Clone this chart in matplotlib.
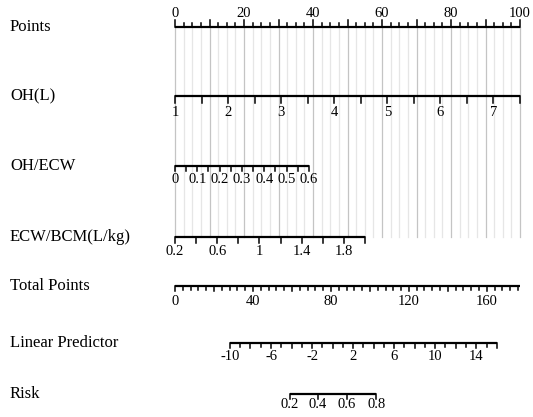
import numpy as np
import matplotlib
matplotlib.use("Agg")
import matplotlib.pyplot as plt

plt.rcParams['font.family'] = ['Liberation Serif', 'DejaVu Serif']

# ---- data ----
row_names = ["Points", "OH(L)", "OH/ECW", "ECW/BCM(L/kg)",
             "Total Points", "Linear Predictor", "Risk"]

# Points scale (0-100)
points_range = [0, 100]
points_labels = [0, 20, 40, 60, 80, 100]
points_step = 2.5

# OH(L): value range -> points
oh_values = [1, 7.5]
oh_points = [0, 100]
oh_labels = [1, 2, 3, 4, 5, 6, 7]
oh_step = 0.5

# OH/ECW
ohecw_values = [0, 0.6]
ohecw_points = [0, 38.8]
ohecw_labels = [0, 0.1, 0.2, 0.3, 0.4, 0.5, 0.6]
ohecw_step = 0.05

# ECW/BCM (L/kg)
ecw_values = [0.2, 2.0]
ecw_points = [0, 55.1]
ecw_labels = [0.2, 0.6, 1, 1.4, 1.8]
ecw_step = 0.2

# Total points
total_range = [0, 177]
total_labels = [0, 40, 80, 120, 160]
total_step = 4

# Linear predictor -> total points
lp_values = [-10, 16]
lp_total = [28.2, 165.1]
lp_labels = [-10, -6, -2, 2, 6, 10, 14]
lp_step = 1

# Risk -> total points
risk_labels = [0.2, 0.4, 0.6, 0.8]
risk_total = [59.0, 73.4, 88.3, 103.2]


def fmt(v):
    s = ("%.2f" % v).rstrip("0").rstrip(".")
    return s


def lin(v, vr, pr):
    return pr[0] + (np.asarray(v, float) - vr[0]) * (pr[1] - pr[0]) / (vr[1] - vr[0])


def tot2x(t):
    return np.asarray(t, float) * 100.0 / total_range[1]


fig = plt.figure(figsize=(5.33, 4.17), dpi=100)
ax = fig.add_axes([0, 0, 1, 1])
# x in "points" units: 0 -> 175 px, 100 -> 520 px ; y in pixel rows
ppx = 3.45
ax.set_xlim(-175 / ppx, (533 - 175) / ppx)
ax.set_ylim(417, 0)
ax.axis("off")

row_y = [27, 96, 166, 237, 286, 343, 394]
label_x = -165 / ppx
fs_lab = 12
fs_tick = 10.5
lw_axis = 1.6
lw_tick = 1.1


def draw_row(y, x0, x1, tick_x, tick_len, lab_x, lab_txt, up=False, off=None):
    ax.plot([x0, x1], [y, y], color="black", lw=lw_axis, solid_capstyle="butt")
    sgn = -1 if up else 1
    for tx, tl in zip(tick_x, tick_len):
        ax.plot([tx, tx], [y, y + sgn * tl], color="black", lw=lw_tick)
    for lx, lt in zip(lab_x, lab_txt):
        if up:
            ax.text(lx, y - 10, lt, ha="center", va="baseline", fontsize=fs_tick)
        else:
            ax.text(lx, y + off, lt, ha="center", va="baseline", fontsize=fs_tick)


# grid lines
grid_vals = np.arange(points_range[0], points_range[1] + 0.01, points_step)
for g in grid_vals:
    c = "#c4c4c4" if abs(g % 10) < 1e-6 else "#e6e6e6"
    ax.plot([g, g], [row_y[0], row_y[3]], color=c, lw=0.9, zorder=0)

# Points
pt = grid_vals
draw_row(row_y[0], 0, 100, pt, [7 if abs(p % 10) < 1e-6 else 4.5 for p in pt],
         points_labels, [fmt(v) for v in points_labels], up=True)

# OH(L)
v = np.arange(oh_values[0], oh_values[1] + 1e-6, oh_step)
x = lin(v, oh_values, oh_points)
draw_row(row_y[1], x[0], x[-1], x, [6.5] * len(x),
         lin(oh_labels, oh_values, oh_points), [fmt(a) for a in oh_labels], off=20)

# OH/ECW
v = np.arange(ohecw_values[0], ohecw_values[1] + 1e-6, ohecw_step)
x = lin(v, ohecw_values, ohecw_points)
draw_row(row_y[2], x[0], x[-1], x, [4.5] * len(x),
         lin(ohecw_labels, ohecw_values, ohecw_points), [fmt(a) for a in ohecw_labels], off=17)

# ECW/BCM
v = np.arange(ecw_values[0], ecw_values[1] + 1e-6, ecw_step)
x = lin(v, ecw_values, ecw_points)
draw_row(row_y[3], x[0], x[-1], x, [6] * len(x),
         lin(ecw_labels, ecw_values, ecw_points), [fmt(a) for a in ecw_labels], off=18)

# Total points
v = np.arange(total_range[0], total_range[1] + 1e-6, total_step)
x = tot2x(v)
draw_row(row_y[4], 0, tot2x(total_range[1]), x,
         [5 if abs(a % 20) < 1e-6 else 3.5 for a in v],
         tot2x(total_labels), [fmt(a) for a in total_labels], off=19)

# Linear predictor
v = np.arange(lp_values[0], lp_values[1] + 1e-6, lp_step)
x = tot2x(lin(v, lp_values, lp_total))
draw_row(row_y[5], x[0], x[-1], x,
         [5 if abs(a % 2) < 1e-6 else 3.5 for a in v],
         tot2x(lin(lp_labels, lp_values, lp_total)), [fmt(a) for a in lp_labels], off=17)

# Risk
x = tot2x(risk_total)
draw_row(row_y[6], x[0], x[-1], x, [4.5] * len(x),
         x, [fmt(a) for a in risk_labels], off=14)

for yy, name in zip(row_y, row_names):
    ax.text(label_x, yy, name, ha="left", va="center", fontsize=fs_lab)

fig.savefig("out.png", dpi=100, facecolor="white")
